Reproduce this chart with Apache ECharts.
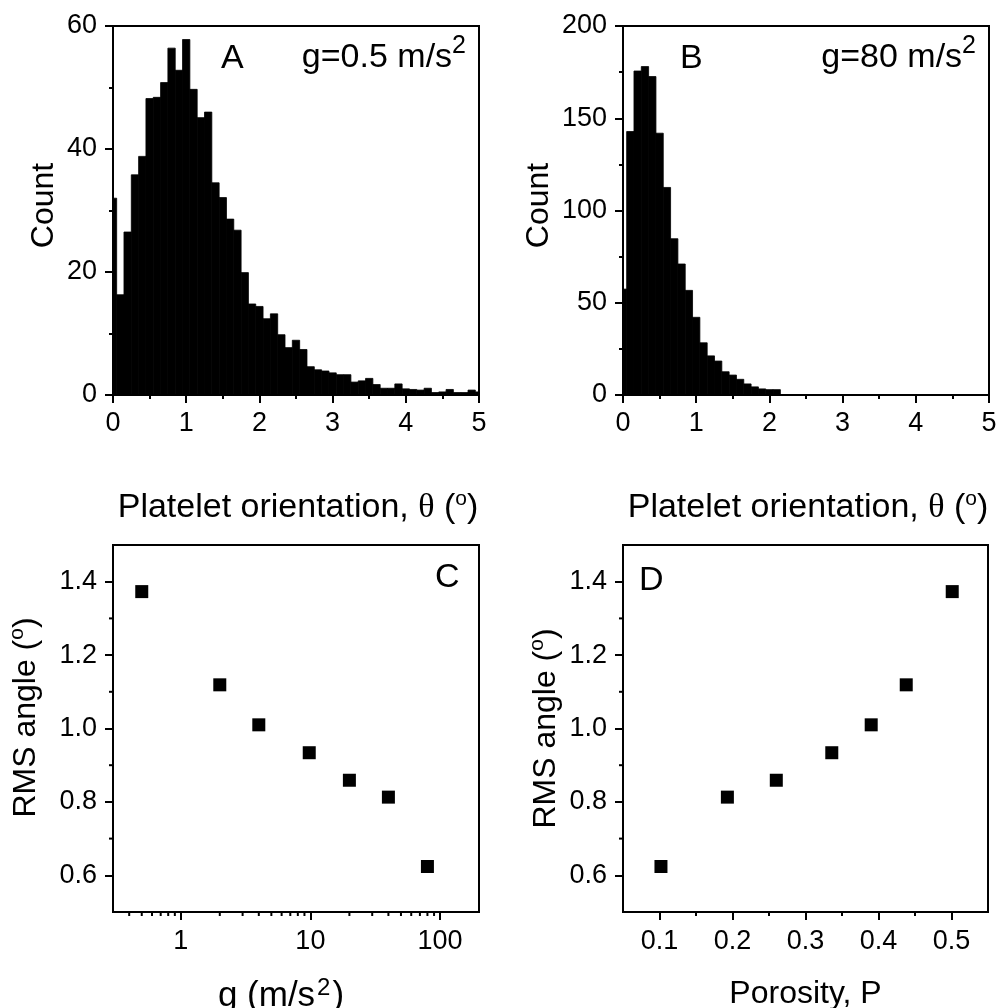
<!DOCTYPE html>
<html><head><meta charset="utf-8">
<script src="https://cdn.jsdelivr.net/npm/echarts@6/dist/echarts.min.js"></script>
<style>html,body{margin:0;padding:0;background:#fff}#c{width:998px;height:1008px}</style>
</head><body><div id="c"></div>
<script>
// ---------- data ----------
const BIN_WIDTH = 0.1;
const A_THETA = [0,0.1,0.2,0.3,0.4,0.5,0.6,0.7,0.8,0.9,1.0,1.1,1.2,1.3,1.4,1.5,1.6,1.7,1.8,1.9,2.0,2.1,2.2,2.3,2.4,2.5,2.6,2.7,2.8,2.9,3.0,3.1,3.2,3.3,3.4,3.5,3.6,3.7,3.8,3.9,4.0,4.1,4.2,4.3,4.4,4.5,4.6,4.7,4.8,4.9,5.0];
const A_COUNTS = [32.0,16.3,26.5,35.8,38.8,48.2,48.4,50.8,56.4,52.8,57.8,49.7,45.1,46.0,34.5,32.1,28.6,26.8,19.9,14.8,14.4,12.4,13.2,9.8,7.7,8.9,7.4,4.6,4.1,3.9,3.6,3.3,3.3,2.1,2.3,2.7,1.7,1.1,1.1,1.8,1.0,0.9,0.8,1.1,0.4,0.5,0.9,0.4,0.4,0.8,0.5];
const B_THETA = [0,0.1,0.2,0.3,0.4,0.5,0.6,0.7,0.8,0.9,1.0,1.1,1.2,1.3,1.4,1.5,1.6,1.7,1.8,1.9,2.0,2.1];
const B_COUNTS = [57.4,142.8,175.6,178.0,172.6,141.9,112.5,84.7,71.0,56.7,42.1,28.3,21.2,18.4,12.6,10.8,8.5,6.0,4.4,3.3,2.9,2.9];
const G_VALUES = [0.5,2,4,9.8,20,40,80];
const RMS_C = [1.373,1.119,1.010,0.934,0.859,0.813,0.624];
const POROSITY = [0.102,0.193,0.260,0.336,0.390,0.438,0.501];
const RMS_D = [0.624,0.813,0.859,0.934,1.010,1.119,1.373];
// tick values
const RMS_TICKS = [0.6,0.8,1.0,1.2,1.4];
const RMS_MINOR = [0.7,0.9,1.1,1.3];
const G_MINOR = [0.4,0.5,0.6,0.7,0.8,0.9,2,3,4,5,6,7,8,9,20,30,40,50,60,70,80,90];
const P_TICKS = [0.1,0.2,0.3,0.4,0.5];
const P_MINOR = [0.15,0.25,0.35,0.45];

// ---------- style ----------
const FONT = 'Liberation Sans';
const BLACK = '#000';
const LABEL = {color: BLACK, fontFamily: FONT, fontSize: 27};
const TITLE_RICH = {
  n: {fontFamily: FONT, fontSize: 32, color: BLACK, lineHeight: 38},
  t: {fontFamily: FONT, fontSize: 34, color: BLACK, lineHeight: 38},
  g: {fontFamily: FONT, fontSize: 35, color: BLACK, lineHeight: 40},
  th: {fontFamily: 'Liberation Serif', fontSize: 34, color: BLACK, lineHeight: 38},
  sup: {fontFamily: FONT, fontSize: 21, color: BLACK, lineHeight: 38, verticalAlign: 'top'},
  sup2: {fontFamily: FONT, fontSize: 24, color: BLACK, lineHeight: 40, verticalAlign: 'top', padding: [0, 2, 0, 2]}
};
const THETA_TITLE = '{t|Platelet orientation, }{th|θ}{t| (}{sup|o}{t|)}';
const RMS_TITLE = '{n|RMS angle (}{sup|o}{n|)}';
const G_TITLE = '{g|g (m/s}{sup2|2}{g|)}';
const MAJOR_LEN = 8, MINOR_LEN = 4;

const chart = echarts.init(document.getElementById('c'));

function axisCommon(o) {
  return Object.assign({
    axisLine: {show: true, onZero: false, lineStyle: {color: BLACK, width: 2}},
    axisTick: {show: true, inside: false, length: MAJOR_LEN, lineStyle: {color: BLACK, width: 2}},
    minorTick: {show: true, splitNumber: 2, length: MINOR_LEN, lineStyle: {color: BLACK, width: 2}},
    splitLine: {show: false},
    minorSplitLine: {show: false}
  }, o);
}
function titleStyle(extra) {
  return Object.assign({fontFamily: FONT, fontSize: 32, color: BLACK, lineHeight: 38, rich: TITLE_RICH}, extra || {});
}

function histRect(params, api) {
  const x = api.value(0), y = api.value(1);
  const p0 = api.coord([x - BIN_WIDTH / 2, y]);
  const p1 = api.coord([x + BIN_WIDTH / 2, 0]);
  return {type: 'rect', shape: {x: p0[0], y: p0[1], width: p1[0] - p0[0], height: p1[1] - p0[1]},
          style: {fill: BLACK, stroke: BLACK, lineWidth: 0.8}};
}
function yMinorTick(params, api) {
  const p = api.coord([api.value(0), api.value(1)]);
  return {type: 'line', shape: {x1: p[0] - MINOR_LEN, y1: p[1], x2: p[0], y2: p[1]}, style: {stroke: BLACK, lineWidth: 2}};
}
function xMinorTick(params, api) {
  const p = api.coord([api.value(0), api.value(1)]);
  return {type: 'line', shape: {x1: p[0], y1: p[1], x2: p[0], y2: p[1] + MINOR_LEN}, style: {stroke: BLACK, lineWidth: 2}};
}

const gridBase = {show: true, borderColor: BLACK, borderWidth: 2, backgroundColor: 'transparent', containLabel: false, outerBoundsMode: 'none'};
const ANN_RICH = {
  n: {fontFamily: FONT, fontSize: 34, lineHeight: 48, color: BLACK},
  s: {fontFamily: FONT, fontSize: 25, lineHeight: 48, color: BLACK, verticalAlign: 'top'}
};

const option = {
  animation: false,
  backgroundColor: '#fff',
  grid: [
    Object.assign({left: 113, top: 26, width: 366, height: 369}, gridBase),
    Object.assign({left: 623, top: 26, width: 366, height: 369}, gridBase),
    Object.assign({left: 113, top: 545, width: 366, height: 367}, gridBase),
    Object.assign({left: 623, top: 545, width: 365, height: 367}, gridBase)
  ],
  xAxis: [
    axisCommon({type: 'value', gridIndex: 0, min: 0, max: 5, interval: 1,
      axisLabel: Object.assign({margin: 15}, LABEL),
      name: THETA_TITLE, nameLocation: 'middle', nameGap: 94, nameTextStyle: titleStyle({padding: [0, 0, 0, 4]})}),
    axisCommon({type: 'value', gridIndex: 1, min: 0, max: 5, interval: 1,
      axisLabel: Object.assign({margin: 15}, LABEL),
      name: THETA_TITLE, nameLocation: 'middle', nameGap: 94, nameTextStyle: titleStyle({padding: [0, 0, 0, 4]})}),
    axisCommon({type: 'log', logBase: 10, gridIndex: 2, min: 0.3, max: 200,
      minorTick: {show: false},
      axisLabel: Object.assign({margin: 16, showMinLabel: false, showMaxLabel: false}, LABEL),
      name: G_TITLE, nameLocation: 'middle', nameGap: 64, nameTextStyle: titleStyle({lineHeight: 40, padding: [0, 30, 0, 0]})}),
    axisCommon({type: 'value', gridIndex: 3, min: 0.05, max: 0.55,
      minorTick: {show: false},
      axisTick: {show: true, inside: false, length: MAJOR_LEN, lineStyle: {color: BLACK, width: 2}, customValues: P_TICKS},
      axisLabel: Object.assign({margin: 16, customValues: P_TICKS, formatter: v => Number(v).toFixed(1)}, LABEL),
      name: 'Porosity, P', nameLocation: 'middle', nameGap: 63, nameTextStyle: titleStyle()})
  ],
  yAxis: [
    axisCommon({type: 'value', gridIndex: 0, min: 0, max: 60, interval: 20,
      axisLabel: Object.assign({margin: 16}, LABEL),
      name: 'Count', nameLocation: 'middle', nameRotate: 90, nameGap: 39, nameTextStyle: titleStyle({padding: [0, 0, 0, 10]})}),
    axisCommon({type: 'value', gridIndex: 1, min: 0, max: 200, interval: 50,
      axisLabel: Object.assign({margin: 16}, LABEL),
      name: 'Count', nameLocation: 'middle', nameRotate: 90, nameGap: 65, nameTextStyle: titleStyle({padding: [0, 0, 0, 10]})}),
    axisCommon({type: 'value', gridIndex: 2, min: 0.5, max: 1.5,
      minorTick: {show: false},
      axisTick: {show: true, inside: false, length: MAJOR_LEN, lineStyle: {color: BLACK, width: 2}, customValues: RMS_TICKS},
      axisLabel: Object.assign({margin: 16, customValues: RMS_TICKS, formatter: v => Number(v).toFixed(1)}, LABEL),
      name: RMS_TITLE, nameLocation: 'middle', nameRotate: 90, nameGap: 68, nameTextStyle: titleStyle({padding: [0, 0, 0, 22]})}),
    axisCommon({type: 'value', gridIndex: 3, min: 0.5, max: 1.5,
      minorTick: {show: false},
      axisTick: {show: true, inside: false, length: MAJOR_LEN, lineStyle: {color: BLACK, width: 2}, customValues: RMS_TICKS},
      axisLabel: Object.assign({margin: 16, customValues: RMS_TICKS, formatter: v => Number(v).toFixed(1)}, LABEL),
      name: RMS_TITLE, nameLocation: 'middle', nameRotate: 90, nameGap: 58, nameTextStyle: titleStyle()})
  ],
  series: [
    {type: 'custom', name: 'A', xAxisIndex: 0, yAxisIndex: 0, clip: true, silent: true,
     data: A_THETA.map((t, i) => [t, A_COUNTS[i]]), renderItem: histRect},
    {type: 'custom', name: 'B', xAxisIndex: 1, yAxisIndex: 1, clip: true, silent: true,
     data: B_THETA.map((t, i) => [t, B_COUNTS[i]]), renderItem: histRect},
    {type: 'scatter', name: 'C', xAxisIndex: 2, yAxisIndex: 2, symbol: 'rect', symbolSize: 13,
     itemStyle: {color: BLACK, opacity: 1}, data: G_VALUES.map((g, i) => [g, RMS_C[i]])},
    {type: 'scatter', name: 'D', xAxisIndex: 3, yAxisIndex: 3, symbol: 'rect', symbolSize: 13,
     itemStyle: {color: BLACK, opacity: 1}, data: POROSITY.map((p, i) => [p, RMS_D[i]])},
    {type: 'custom', xAxisIndex: 2, yAxisIndex: 2, clip: false, silent: true,
     data: RMS_MINOR.map(v => [0.3, v]), renderItem: yMinorTick},
    {type: 'custom', xAxisIndex: 2, yAxisIndex: 2, clip: false, silent: true,
     data: G_MINOR.map(v => [v, 0.5]), renderItem: xMinorTick},
    {type: 'custom', xAxisIndex: 3, yAxisIndex: 3, clip: false, silent: true,
     data: RMS_MINOR.map(v => [0.05, v]), renderItem: yMinorTick},
    {type: 'custom', xAxisIndex: 3, yAxisIndex: 3, clip: false, silent: true,
     data: P_MINOR.map(v => [v, 0.5]), renderItem: xMinorTick}
  ],
  graphic: [
    {type: 'text', x: 221, y: 35, style: {text: '{n|A}', rich: ANN_RICH, verticalAlign: 'top'}},
    {type: 'text', x: 466, y: 34, style: {text: '{n|g=0.5 m/s}{s|2}', align: 'right', verticalAlign: 'top', rich: ANN_RICH}},
    {type: 'text', x: 680, y: 35, style: {text: '{n|B}', rich: ANN_RICH, verticalAlign: 'top'}},
    {type: 'text', x: 976, y: 34, style: {text: '{n|g=80 m/s}{s|2}', align: 'right', verticalAlign: 'top', rich: ANN_RICH}},
    {type: 'text', x: 435, y: 554, style: {text: '{n|C}', rich: ANN_RICH, verticalAlign: 'top'}},
    {type: 'text', x: 639, y: 557, style: {text: '{n|D}', rich: ANN_RICH, verticalAlign: 'top'}}
  ]
};
chart.setOption(option);
</script>
</body></html>
